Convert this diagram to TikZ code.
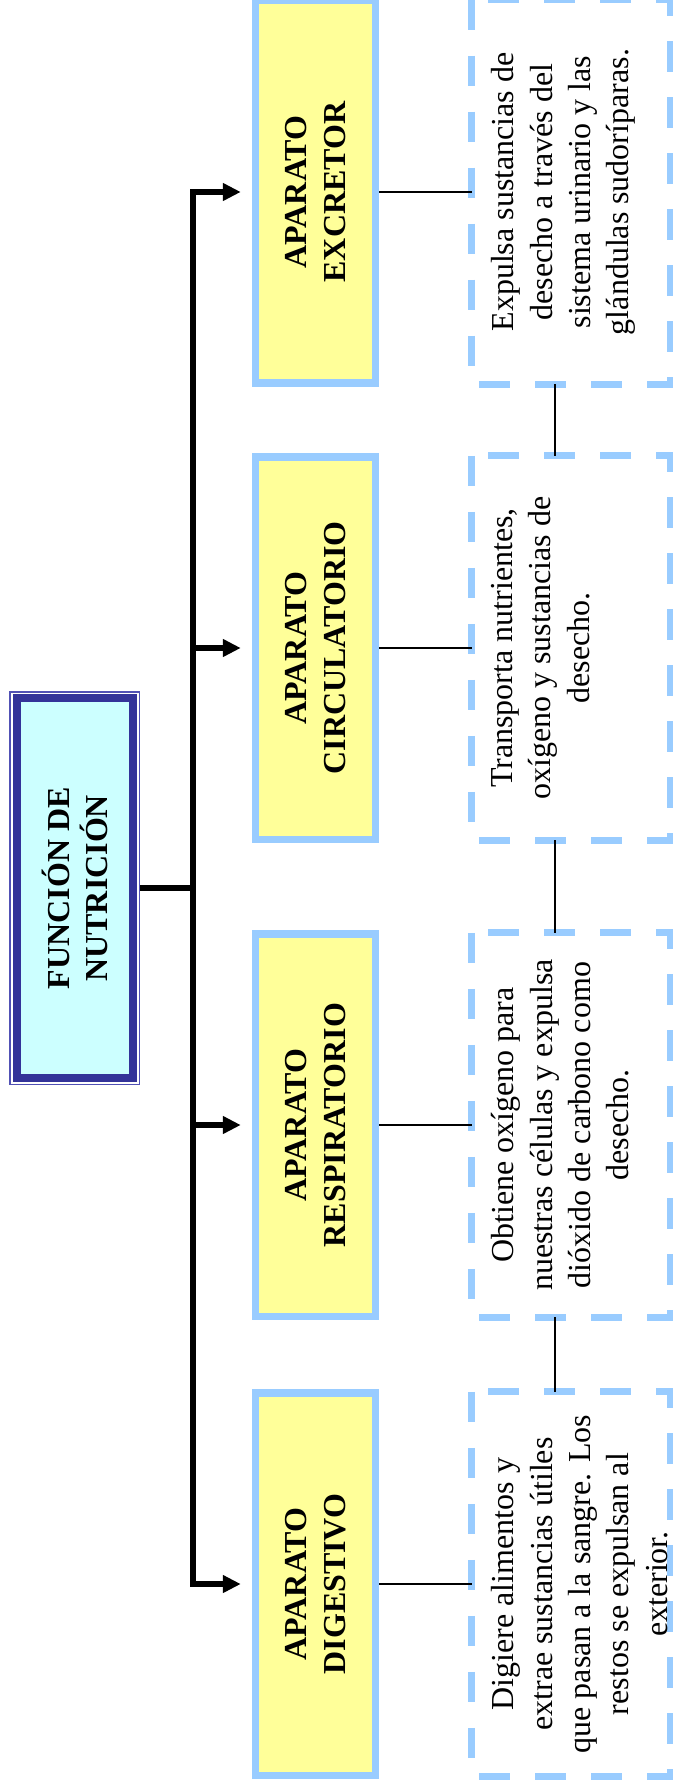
\documentclass[tikz,border=0pt]{standalone}
\usepackage{fontspec}
\setmainfont{Liberation Serif}
\usetikzlibrary{calc,positioning,fit,arrows.meta}
\definecolor{boxblue}{HTML}{99CCFF}
\definecolor{boxyellow}{HTML}{FFFF99}
\definecolor{navy}{HTML}{333399}
\definecolor{lightcyan}{HTML}{CCFFFF}
\definecolor{framelilac}{HTML}{5151B5}
\tikzset{organ/.style={draw=boxblue, fill=boxyellow, line width=3.75pt, rotate=90,
    minimum width=191.25pt, minimum height=60pt, inner sep=0pt, align=center,
    font=\fontsize{16}{19.2}\selectfont\bfseries}}
\tikzset{info/.style={draw=boxblue, line width=3.5pt, dash pattern=on 15.25pt off 12.75pt,
    rotate=90, minimum width=192.25pt, minimum height=99.5pt, outer sep=0pt}}
\tikzset{infotext/.style={rotate=90, anchor=north, align=center, inner sep=0pt,
    font=\fontsize{16}{19.2}\selectfont}}
\tikzset{bus/.style={line width=2.8pt}}
\tikzset{arr/.style={-{Triangle[length=9pt,width=8.5pt]}, shorten >=5.5pt}}
\tikzset{link/.style={line width=0.7pt}}

\begin{document}
\begin{tikzpicture}[x=0.5pt,y=-0.5pt]
  \useasboundingbox (0,0) rectangle (673,1791);
  % main box
  \node[draw=navy, line width=4pt, fill=lightcyan, rotate=90, minimum width=189.9pt,
    minimum height=58.2pt, align=center, font=\fontsize{16}{19.2}\selectfont\bfseries]
    (func) at (74.85,888.2) {FUNCIÓN DE\\NUTRICIÓN};
  \node[draw=framelilac, line width=0.8pt, fit=(func), inner sep=1.25pt] (frame) {};
  % organ boxes
  \node[organ] (yexc) at (315.5,192) {APARATO\\EXCRETOR};
  \node[organ] (ycirc) at (315.5,648) {APARATO\\CIRCULATORIO};
  \node[organ] (yresp) at (315.5,1125) {APARATO\\RESPIRATORIO};
  \node[organ] (ydig) at (315.5,1584) {APARATO\\DIGESTIVO};
  % dashed boxes and their texts
  \node[info] (dexc) at (571,192) {};
  \node[info] (dcirc) at (571,648) {};
  \node[info] (dresp) at (571,1125) {};
  \node[info] (ddig) at (571,1584) {};
  \node[infotext] (texc) at (491,192) {Expulsa sustancias de\\desecho a través del\\sistema urinario y las\\glándulas sudoríparas.};
  \node[infotext] (tcirc) at (491,648) {Transporta nutrientes,\\oxígeno y sustancias de\\desecho.};
  \node[infotext] (tresp) at (491,1125) {Obtiene oxígeno para\\nuestras células y expulsa\\dióxido de carbono como\\desecho.};
  \node[infotext] (tdig) at (491,1584) {Digiere alimentos y\\extrae sustancias útiles\\que pasan a la sangre. Los\\restos se expulsan al\\exterior.};
  % trunk and arrows
  \coordinate (ttop) at (193,192);
  \coordinate (tbot) at (193,1584);
  \draw[bus,arr] (tbot) -- (ttop) -- (yexc.north);
  \draw[bus,arr] (ttop) -- (tbot) -- (ydig.north);
  \draw[bus,arr] (ttop |- ycirc) -- (ycirc.north);
  \draw[bus,arr] (ttop |- yresp) -- (yresp.north);
  \draw[bus] (frame.east) -- (frame.east -| ttop);
  % thin links
  \draw[link] (yexc.south) -- (dexc.north);
  \draw[link] (ycirc.south) -- (dcirc.north);
  \draw[link] (yresp.south) -- (dresp.north);
  \draw[link] (ydig.south) -- (ddig.north);
  \draw[link] ([xshift=-8pt]dexc.west) -- ([xshift=-8pt]dcirc.east);
  \draw[link] ([xshift=-8pt]dcirc.west) -- ([xshift=-8pt]dresp.east);
  \draw[link] ([xshift=-8pt]dresp.west) -- ([xshift=-8pt]ddig.east);
\end{tikzpicture}
\end{document}
